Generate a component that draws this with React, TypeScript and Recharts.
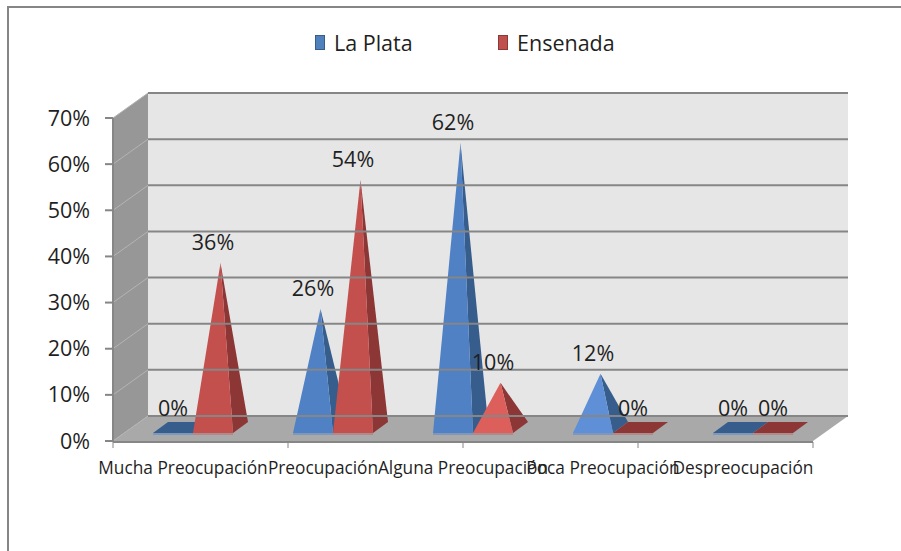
import React from "react";
import {
  BarChart,
  Bar,
  XAxis,
  YAxis,
  ReferenceArea,
  ReferenceLine,
  Legend,
  LabelList,
} from "recharts";

const categories = [
  "Mucha Preocupación",
  "Preocupación",
  "Alguna Preocupación",
  "Poca Preocupación",
  "Despreocupación",
];
const laPlata = [0, 26, 62, 12, 0];
const ensenada = [36, 54, 10, 0, 0];
const yTicks = [0, 10, 20, 30, 40, 50, 60, 70];
const categoryEdges = [0, 1, 2, 3, 4, 5];

const data = categories.map((name, i) => ({
  name,
  laPlata: laPlata[i],
  ensenada: ensenada[i],
}));

const FONT = "'Open Sans', sans-serif";
const TEXT = "#1f1f1f";
const LINE = "#868686";

// how far the back wall sits behind the front axes
const DEPTH_X = 35;
const DEPTH_Y = 25;
// same thing for a single pyramid's base
const BASE_X = 15;
const BASE_Y = 11;
const BASE_LIFT = 8;
// the reference's pairs sit a little right of the category centre
const SHIFT_X = 10;

const pts = (list: number[][]) => list.map((p) => p.join(",")).join(" ");

/** Back wall, side wall and floor, worked out from the plot rectangle. */
function Walls({ x, y, width, height }: any) {
  const bottom = y + height;
  const right = x + width;
  return (
    <g>
      <polygon
        points={pts([
          [x + DEPTH_X, y - DEPTH_Y],
          [right + DEPTH_X, y - DEPTH_Y],
          [right + DEPTH_X, bottom - DEPTH_Y],
          [x + DEPTH_X, bottom - DEPTH_Y],
        ])}
        fill="#e6e6e6"
      />
      <polygon
        points={pts([
          [x, y],
          [x + DEPTH_X, y - DEPTH_Y],
          [x + DEPTH_X, bottom - DEPTH_Y],
          [x, bottom],
        ])}
        fill="#979797"
      />
      <polygon
        points={pts([
          [x, bottom],
          [right, bottom],
          [right + DEPTH_X, bottom - DEPTH_Y],
          [x + DEPTH_X, bottom - DEPTH_Y],
        ])}
        fill="#a9a9a9"
      />
    </g>
  );
}

/** Grid line that runs up the side wall and then along the back wall. */
function GridLine({ x1, y1, x2, y2 }: any) {
  return (
    <g>
      <line
        x1={x1}
        y1={y1}
        x2={x1 + DEPTH_X}
        y2={y1 - DEPTH_Y}
        stroke="#b4b4b4"
        strokeWidth={1}
      />
      <line
        x1={x1 + DEPTH_X}
        y1={y1 - DEPTH_Y}
        x2={x2 + DEPTH_X}
        y2={y2 - DEPTH_Y}
        stroke={LINE}
        strokeWidth={2}
      />
    </g>
  );
}

function pyramid(front: string, bright: string, side: string, edge: string) {
  return function Pyramid({ x: rawX, y, width, height, value }: any) {
    const x = rawX + SHIFT_X;
    const base = y + height - BASE_LIFT;
    const right = x + width;
    const backY = base - BASE_Y;
    const v = Array.isArray(value) ? value[1] - value[0] : value;
    if (!v) {
      return (
        <g>
          <polygon
            points={pts([
              [x, base],
              [right, base],
              [right + BASE_X, backY],
              [x + BASE_X, backY],
            ])}
            fill={side}
          />
          <line x1={x} y1={base + 1} x2={right} y2={base + 1} stroke={edge} strokeWidth={2} />
        </g>
      );
    }
    const apexX = x + width / 2 + BASE_X / 2;
    const apexY = y - 12;
    return (
      <g>
        <polygon
          points={pts([
            [right, base],
            [right + BASE_X, backY],
            [apexX, apexY],
          ])}
          fill={side}
        />
        <polygon
          points={pts([
            [x, base],
            [right, base],
            [apexX, apexY],
          ])}
          fill={v <= 12 ? bright : front}
        />
        <line x1={x} y1={base + 1} x2={right} y2={base + 1} stroke={edge} strokeWidth={2} />
      </g>
    );
  };
}

const BluePyramid = pyramid("#4f81c4", "#5f8fd6", "#375d8c", "#7f97b8");
const RedPyramid = pyramid("#c4504e", "#dc5f5b", "#8c3635", "#b08a8a");

function LegendBox({ payload }: any) {
  return (
    <div style={{ display: "flex", fontFamily: FONT, fontSize: 21.5, color: TEXT }}>
      {(payload ?? []).map((item: any) => (
        <div key={item.value} style={{ width: 183, display: "flex", alignItems: "center" }}>
          <span
            style={{
              width: 8,
              height: 13,
              marginRight: 9,
              background: item.color,
              border: `1px solid ${item.payload.stroke}`,
            }}
          />
          {item.value}
        </div>
      ))}
    </div>
  );
}

function ValueLabel({ x, y, width, value }: any) {
  return (
    <text
      x={x + width / 2 + SHIFT_X}
      y={y - 25}
      textAnchor="middle"
      fill={TEXT}
      fontSize={21.5}
      fontFamily={FONT}
    >
      {`${value}%`}
    </text>
  );
}

const axisStroke = { stroke: LINE, strokeWidth: 2 };

export default function App() {
  return (
    <div
      style={{
        position: "absolute",
        left: 0,
        top: 0,
        width: 901,
        height: 551,
        background: "#fff",
        overflow: "hidden",
      }}
    >
      <div
        style={{
          position: "absolute",
          left: 7,
          top: 6,
          width: 900,
          height: 560,
          borderTop: `2px solid ${LINE}`,
          borderLeft: `2px solid ${LINE}`,
        }}
      />
      <div style={{ position: "absolute", left: 0, top: 0 }}>
        <BarChart
          width={901}
          height={551}
          data={data}
          barSize={40}
          barGap={0}
          margin={{ top: 118, right: 88, bottom: 60, left: 53 }}
        >
          <ReferenceArea y1={0} y2={70} shape={Walls} ifOverflow="visible" />
          {yTicks.map((v) => (
            <ReferenceLine key={v} y={v} shape={GridLine} ifOverflow="visible" />
          ))}
          {/* labels sit between the ticks, so the two need separate axes */}
          <XAxis
            dataKey="name"
            interval={0}
            height={1}
            axisLine={false}
            tickLine={false}
            tickMargin={15}
            tick={{ fill: TEXT, fontSize: 17.3, fontFamily: FONT }}
          />
          <XAxis
            xAxisId="edges"
            type="number"
            domain={[0, 5]}
            ticks={categoryEdges}
            height={49}
            tickFormatter={() => ""}
            axisLine={axisStroke}
            tickLine={{ stroke: LINE, strokeWidth: 1 }}
            tickSize={6}
          />
          <YAxis
            width={60}
            domain={[0, 70]}
            ticks={yTicks}
            tickFormatter={(v) => `${v}%`}
            axisLine={axisStroke}
            tickLine={axisStroke}
            tickSize={8}
            tickMargin={15}
            tick={{ fill: TEXT, fontSize: 21.5, fontFamily: FONT }}
          />
          <Legend
            layout="horizontal"
            verticalAlign="middle"
            align="center"
            itemSorter={null}
            wrapperStyle={{ left: 315, top: 28, width: 400, height: 30 }}
            content={LegendBox as any}
          />
          <Bar
            dataKey="laPlata"
            name="La Plata"
            fill="#4f81bd"
            stroke="#385d8a"
            shape={BluePyramid}
            isAnimationActive={false}
          >
            <LabelList dataKey="laPlata" content={ValueLabel} />
          </Bar>
          <Bar
            dataKey="ensenada"
            name="Ensenada"
            fill="#c0504d"
            stroke="#8c3836"
            shape={RedPyramid}
            isAnimationActive={false}
          >
            <LabelList dataKey="ensenada" content={ValueLabel} />
          </Bar>
        </BarChart>
      </div>
    </div>
  );
}
